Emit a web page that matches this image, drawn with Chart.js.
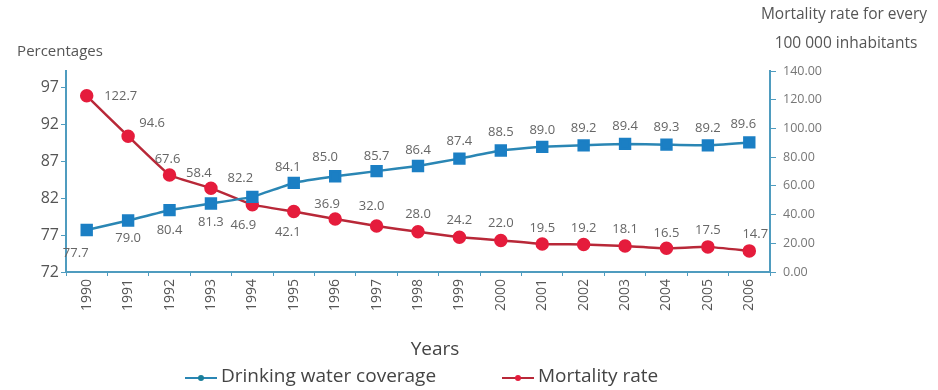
<!DOCTYPE html>
<html>
<head>
<meta charset="utf-8">
<title>Drinking water coverage and mortality rate</title>
<script src="https://cdn.jsdelivr.net/npm/chart.js@4.4.1/dist/chart.umd.min.js"></script>
<style>
  html, body { margin: 0; padding: 0; background: #fff; }
  #wrap { position: relative; width: 938px; height: 390px; }
</style>
</head>
<body>
<div id="wrap"><canvas id="chart"></canvas></div>
<script>
  // Data
  const years = ['1990', '1991', '1992', '1993', '1994', '1995', '1996', '1997', '1998',
    '1999', '2000', '2001', '2002', '2003', '2004', '2005', '2006'];
  const waterCoverage = [77.7, 79.0, 80.4, 81.3, 82.2, 84.1, 85.0, 85.7, 86.4,
    87.4, 88.5, 89.0, 89.2, 89.4, 89.3, 89.2, 89.6];
  const mortalityRate = [122.7, 94.6, 67.6, 58.4, 46.9, 42.1, 36.9, 32.0, 28.0,
    24.2, 22.0, 19.5, 19.2, 18.1, 16.5, 17.5, 14.7];
  const percentTicks = [72, 77, 82, 87, 92, 97];
  const mortalityTicks = [0, 20, 40, 60, 80, 100, 120, 140];

  // Look
  const AXIS = '#4f9cbf';
  const BLUE_LINE = '#2a86b4';
  const BLUE_POINT = '#1b7fc4';
  const RED_LINE = '#b82838';
  const RED_POINT = '#e51c3c';
  const TEXT = '#555';
  const FONT = '"Open Sans", "Noto Sans", sans-serif';

  // Value label offsets (dx, dy) from each point
  const waterLabelOffsets = [[-11, 23], [0, 18], [0, 20], [0, 19], [-12, -19], [-6, -16],
    [-10, -19], [0, -15], [0, -16], [0, -17], [0, -18], [0, -17], [0, -17], [0, -18],
    [0, -17], [0, -17], [-6, -18]];
  const mortalityLabelOffsets = [[34, 0], [24, -13], [-2, -16], [-12, -15], [-9, 21], [-6, 21],
    [-8, -15], [-5, -20], [0, -18], [0, -17], [0, -17], [0, -16], [0, -16], [0, -17],
    [0, -15], [0, -17], [6, -17]];

  const decorations = {
    id: 'decorations',
    afterDatasetsDraw(chart) {
      const ctx = chart.ctx;
      ctx.save();
      ctx.textAlign = 'center';
      ctx.textBaseline = 'middle';

      // value labels
      ctx.font = '13px ' + FONT;
      ctx.fillStyle = '#666';
      [[0, waterCoverage, waterLabelOffsets], [1, mortalityRate, mortalityLabelOffsets]]
        .forEach(([di, values, offs]) => {
          chart.getDatasetMeta(di).data.forEach((pt, i) => {
            ctx.fillText(values[i].toFixed(1), pt.x + offs[i][0], pt.y + offs[i][1]);
          });
        });

      // axis titles
      ctx.fillStyle = TEXT;
      ctx.font = '15px ' + FONT;
      ctx.fillText('Percentages', 60, 52);
      ctx.font = '15.5px ' + FONT;
      ctx.fillText('Mortality rate for every', 844, 15);
      ctx.fillText('100 000 inhabitants', 846, 44);
      ctx.font = '19px ' + FONT;
      ctx.fillStyle = '#444';
      ctx.fillText('Years', 435, 350);

      // legend
      const legend = [
        { text: 'Drinking water coverage', x: 185, line: BLUE_LINE, point: '#1a7f9a' },
        { text: 'Mortality rate', x: 502, line: RED_LINE, point: RED_POINT }
      ];
      ctx.font = '19px ' + FONT;
      ctx.textAlign = 'left';
      legend.forEach((item) => {
        const y = 377;
        ctx.strokeStyle = item.line;
        ctx.lineWidth = 2;
        ctx.beginPath();
        ctx.moveTo(item.x, y + 1);
        ctx.lineTo(item.x + 32, y + 1);
        ctx.stroke();
        ctx.fillStyle = item.point;
        ctx.beginPath();
        ctx.arc(item.x + 16, y + 1, 3, 0, Math.PI * 2);
        ctx.fill();
        ctx.fillStyle = '#444';
        ctx.fillText(item.text, item.x + 36, y);
      });
      ctx.restore();
    }
  };

  new Chart(document.getElementById('chart'), {
    type: 'line',
    data: {
      labels: years,
      datasets: [
        {
          label: 'Drinking water coverage',
          data: waterCoverage,
          yAxisID: 'yPct',
          borderColor: BLUE_LINE,
          borderWidth: 2.5,
          pointStyle: 'rect',
          pointRadius: 7,
          pointBackgroundColor: BLUE_POINT,
          pointBorderColor: BLUE_POINT,
          tension: 0.1
        },
        {
          label: 'Mortality rate',
          data: mortalityRate,
          yAxisID: 'yRate',
          borderColor: RED_LINE,
          borderWidth: 2.5,
          pointStyle: 'circle',
          pointRadius: 5.5,
          pointBackgroundColor: RED_POINT,
          pointBorderColor: RED_POINT,
          tension: 0.1
        }
      ]
    },
    options: {
      responsive: true,
      maintainAspectRatio: false,
      animation: false,
      layout: { padding: { top: 71, left: 0, right: 0, bottom: 0 } },
      plugins: {
        legend: { display: false },
        tooltip: { enabled: false }
      },
      scales: {
        x: {
          offset: true,
          grid: { display: true, drawOnChartArea: false, offset: true, tickLength: 4, color: AXIS },
          border: { color: AXIS, width: 2 },
          ticks: {
            minRotation: 90,
            maxRotation: 90,
            padding: 3,
            color: TEXT,
            font: { family: FONT, size: 14 }
          },
          afterFit: (scale) => { scale.height = 118; }
        },
        yPct: {
          position: 'left',
          min: 72,
          max: 99.3,
          afterBuildTicks: (axis) => { axis.ticks = percentTicks.map((v) => ({ value: v })); },
          grid: { display: true, drawOnChartArea: false, tickLength: 5, color: AXIS },
          border: { color: AXIS, width: 2 },
          ticks: { color: TEXT, padding: 2, font: { family: FONT, size: 16 } },
          afterFit: (scale) => { scale.width = 66; }
        },
        yRate: {
          position: 'right',
          min: 0,
          max: 140,
          afterBuildTicks: (axis) => { axis.ticks = mortalityTicks.map((v) => ({ value: v })); },
          grid: { display: true, drawOnChartArea: false, tickLength: 6, color: AXIS },
          border: { color: AXIS, width: 2 },
          ticks: {
            color: '#777',
            padding: 7,
            font: { family: FONT, size: 12.5 },
            callback: (v) => Number(v).toFixed(2)
          },
          afterFit: (scale) => { scale.width = 168; }
        }
      }
    },
    plugins: [decorations]
  });
</script>
</body>
</html>
